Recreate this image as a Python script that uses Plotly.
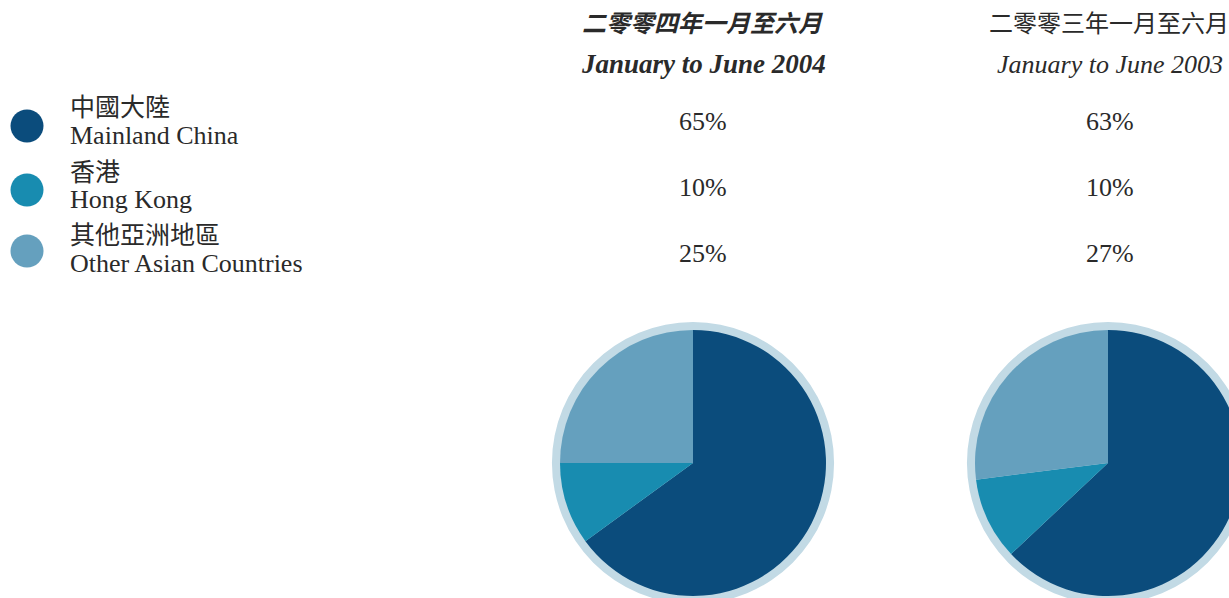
import plotly.graph_objects as go

# ---- data ----
regions_zh = ["中國大陸", "香港", "其他亞洲地區"]
regions_en = ["Mainland China", "Hong Kong", "Other Asian Countries"]
periods_zh = ["二零零四年一月至六月", "二零零三年一月至六月"]
periods_en = ["January to June 2004", "January to June 2003"]
share_2004 = [65, 10, 25]
share_2003 = [63, 10, 27]

# ---- style ----
colors = ["#0b4c7c", "#188cb0", "#65a0be"]
ring_color = "#c2dae5"
text_color = "#2a2a2a"
SERIF = "Liberation Serif, 'Noto Sans CJK TC', serif"

W, H = 1260, 610  # slightly larger than the window so pies are cut at the edges


def px(x):
    return x / W


def py(y):
    return 1 - y / H


fig = go.Figure()

pie_cx = [693, 1108]
text_cx = [703, 1110]
pie_cy = 463
R_PIE = 133
R_RING = 141
series = [share_2004, share_2003]

for cx, vals in zip(pie_cx, series):
    fig.add_trace(go.Pie(
        values=[1], labels=["ring"], sort=False,
        marker=dict(colors=[ring_color], line=dict(width=0)),
        textinfo="none", hoverinfo="skip", showlegend=False,
        domain=dict(x=[px(cx - R_RING), px(cx + R_RING)],
                    y=[py(pie_cy + R_RING), py(pie_cy - R_RING)]),
    ))
    fig.add_trace(go.Pie(
        values=vals, labels=regions_en, sort=False,
        direction="clockwise", rotation=0,
        marker=dict(colors=colors, line=dict(width=0)),
        textinfo="none", showlegend=False,
        domain=dict(x=[px(cx - R_PIE), px(cx + R_PIE)],
                    y=[py(pie_cy + R_PIE), py(pie_cy - R_PIE)]),
    ))

annotations = []
shapes = []

# headers
for i, (zh, en) in enumerate(zip(periods_zh, periods_en)):
    bold = i == 0
    annotations.append(dict(
        x=px(text_cx[i] - 1), y=py(24), xref="paper", yref="paper",
        text=zh, showarrow=False, xanchor="center", yanchor="middle",
        font=dict(family=SERIF, size=24, color=text_color,
                  weight="bold" if bold else "normal", style="italic" if bold else "normal"),
    ))
    annotations.append(dict(
        x=px(text_cx[i]), y=py(64), xref="paper", yref="paper",
        text=en, showarrow=False, xanchor="center", yanchor="middle",
        font=dict(family=SERIF, size=27 if bold else 26, color=text_color,
                  weight="bold" if bold else "normal", style="italic"),
    ))

# percentages
row_y = [122, 188, 254]
for i, vals in enumerate(series):
    for v, y in zip(vals, row_y):
        annotations.append(dict(
            x=px(text_cx[i]), y=py(y), xref="paper", yref="paper",
            text=f"{v}%", showarrow=False, xanchor="center", yanchor="middle",
            font=dict(family=SERIF, size=26, color=text_color),
        ))

# legend
leg_cy = [126, 190, 251]
zh_y = [107, 172, 235]
en_y = [135, 200, 263]
for c, zh, en, cy, zy, ey in zip(colors, regions_zh, regions_en, leg_cy, zh_y, en_y):
    shapes.append(dict(
        type="circle", xref="paper", yref="paper",
        x0=px(27 - 16.5), x1=px(27 + 16.5), y0=py(cy + 16.5), y1=py(cy - 16.5),
        fillcolor=c, line=dict(width=0),
    ))
    annotations.append(dict(
        x=px(68), y=py(zy), xref="paper", yref="paper", text=zh, showarrow=False,
        xanchor="left", yanchor="middle",
        font=dict(family=SERIF, size=25, color=text_color),
    ))
    annotations.append(dict(
        x=px(68), y=py(ey), xref="paper", yref="paper", text=en, showarrow=False,
        xanchor="left", yanchor="middle",
        font=dict(family=SERIF, size=26, color=text_color),
    ))

fig.update_layout(
    width=W, height=H,
    margin=dict(l=0, r=0, t=0, b=0),
    paper_bgcolor="white", plot_bgcolor="white",
    annotations=annotations, shapes=shapes,
    showlegend=False,
)

fig.write_html(
    "out.html",
    config={"displayModeBar": False},
    post_script="document.documentElement.style.overflow='hidden';document.body.style.overflow='hidden';document.body.style.margin='0';",
)
